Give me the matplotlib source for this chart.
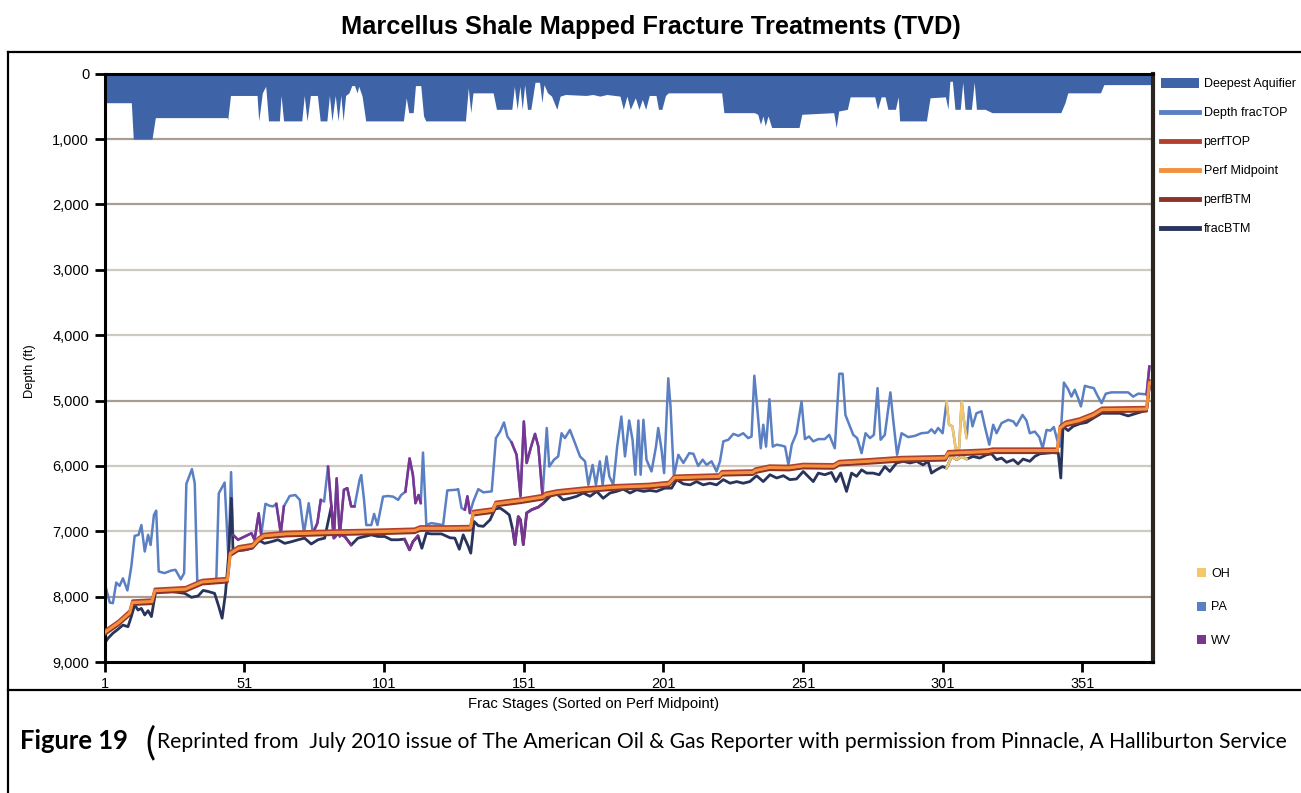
import numpy as np
import matplotlib.pyplot as plt
from matplotlib.lines import Line2D
from matplotlib.patches import Patch

plt.rcParams['font.family'] = ['Liberation Sans', 'DejaVu Sans']

# ---- datos (etapa, profundidad en ft) ----
aquifer = [(1, 444), (10.6, 444), (11.3, 1000), (18.0, 1000), (19.2, 672), (44.9, 672), (45.1, 707),
           (46.1, 333), (55.6, 333), (56.2, 722), (57.5, 293), (58.7, 192), (59.7, 722), (63.6, 722),
           (64.2, 333), (65.1, 722), (71.6, 722), (72.5, 333), (73.5, 722), (74.7, 333), (77.2, 333),
           (78.2, 722), (80.6, 722), (81.5, 333), (82.4, 722), (83.6, 333), (84.6, 722), (85.6, 333),
           (86.4, 722), (87.3, 333), (88.5, 293), (89.5, 182), (90.5, 182), (91.4, 293), (92.0, 192),
           (93.2, 343), (94.5, 722), (108.0, 722), (109.0, 369), (109.9, 596), (111.5, 596), (112.3, 182),
           (114.2, 182), (115.2, 646), (116.0, 722), (130.2, 722), (131.2, 217), (132.1, 596), (132.9, 293),
           (140.1, 293), (141.3, 545), (146.8, 545), (147.7, 192), (148.7, 545), (149.7, 192), (150.5, 545),
           (151.4, 167), (152.4, 545), (153.6, 545), (155.1, 131), (156.7, 131), (157.6, 444), (158.3, 167),
           (159.6, 293), (161.0, 343), (162.9, 545), (164.1, 343), (166.0, 318), (173.4, 333), (175.8, 318),
           (178.3, 343), (180.8, 318), (185.5, 343), (186.7, 545), (188.0, 343), (189.2, 545), (191.0, 369),
           (192.3, 545), (193.5, 394), (194.7, 545), (196.0, 333), (198.4, 333), (199.3, 545), (200.5, 545),
           (201.8, 333), (202.8, 293), (221.9, 293), (222.7, 596), (233.6, 596), (234.8, 621), (235.8, 773),
           (236.7, 646), (237.5, 798), (238.5, 646), (239.8, 823), (249.6, 823), (250.6, 621), (262.0, 596),
           (262.9, 823), (263.8, 571), (266.9, 545), (267.9, 354), (276.7, 354), (277.7, 545), (279.0, 354),
           (280.4, 354), (281.4, 545), (284.1, 545), (285.1, 354), (285.6, 722), (295.2, 722), (296.5, 369),
           (302.0, 354), (302.9, 545), (303.6, 116), (304.5, 116), (305.4, 545), (307.3, 545), (308.2, 131),
           (309.0, 545), (311.3, 545), (312.3, 131), (313.1, 545), (316.2, 545), (318.7, 596), (343.3, 596),
           (344.8, 444), (345.8, 293), (357.5, 293), (358.7, 167), (374.8, 167), (376.3, 167)]

frac_top = [(1.0, 7785), (2.9, 8090), (4.0, 8100), (5.2, 7785), (6.4, 7835), (7.6, 7720), (9.2, 7905),
            (10.6, 7540), (11.8, 7070), (13.2, 7055), (14.2, 6905), (15.4, 7310), (16.6, 7055), (17.5, 7210),
            (18.7, 6750), (19.5, 6685), (20.4, 7615), (22.5, 7640), (24.9, 7600), (26.4, 7590), (28.3, 7735),
            (29.5, 7640), (30.3, 6275), (32.3, 6050), (33.3, 6265), (34.2, 7755), (36.9, 7770), (41.0, 7770),
            (41.9, 6420), (44.0, 6255), (45.4, 7440), (46.3, 6095), (47.0, 7055), (48.8, 7130), (51.2, 7080),
            (53.6, 7030), (54.7, 7130), (56.2, 6725), (57.1, 7055), (58.6, 6580), (60.1, 6610), (61.3, 6620),
            (62.5, 6580), (64.1, 7030), (65.2, 6620), (67.3, 6460), (69.3, 6445), (70.9, 6520), (72.4, 7030),
            (74.1, 6570), (75.6, 7030), (77.2, 6875), (78.4, 6520), (79.6, 6545), (81.0, 6010), (82.2, 6620),
            (83.2, 7030), (84.1, 6190), (85.2, 7080), (86.7, 6365), (87.9, 6340), (89.3, 6620), (90.5, 6620),
            (92.3, 6215), (92.9, 6140), (93.9, 6520), (94.7, 6905), (96.5, 6905), (97.5, 6735), (98.7, 6905),
            (100.7, 6470), (102.5, 6460), (104.3, 6470), (106.1, 6520), (107.2, 6445), (108.7, 6395),
            (110.2, 5885), (111.4, 6140), (112.3, 6570), (113.4, 6445), (114.2, 6570), (115.0, 5795),
            (116.2, 6905), (118.0, 6875), (122.2, 6905), (123.7, 6375), (126.9, 6365), (127.6, 6355),
            (128.8, 6645), (130.0, 6670), (130.9, 6465), (131.8, 6720), (133.0, 6545), (134.8, 6355),
            (136.6, 6405), (139.6, 6390), (141.1, 5575), (142.6, 5475), (144.0, 5335), (145.2, 5550),
            (146.7, 5640), (148.5, 5830), (149.9, 6465), (151.1, 5320), (152.1, 5955), (153.7, 5705),
            (155.1, 5510), (156.3, 5705), (157.8, 6465), (159.3, 5420), (160.2, 6010), (161.9, 5905),
            (163.4, 5855), (164.6, 5500), (165.8, 5575), (167.6, 5450), (169.4, 5650), (171.2, 5855),
            (173.0, 5930), (174.2, 6290), (175.7, 5985), (176.9, 6290), (178.3, 5930), (179.3, 6290),
            (180.7, 5855), (181.7, 6160), (183.1, 6290), (184.5, 5705), (186.0, 5245), (187.3, 5855),
            (188.8, 5305), (190.0, 5600), (191.0, 6135), (192.1, 5305), (192.9, 6135), (193.9, 5295),
            (195.0, 5905), (196.8, 6085), (198.4, 5705), (199.2, 5420), (200.4, 5755), (201.3, 6110),
            (202.8, 4660), (203.6, 5090), (204.8, 6160), (206.4, 5830), (208.2, 5955), (210.3, 5805),
            (211.8, 5815), (213.5, 6000), (215.1, 5905), (216.5, 5985), (218.3, 5930), (220.1, 6085),
            (221.3, 5930), (222.5, 5625), (224.3, 5600), (226.1, 5510), (227.9, 5540), (229.6, 5500),
            (231.4, 5575), (232.6, 5550), (233.6, 4620), (234.7, 5140), (235.9, 5730), (236.8, 5370),
            (237.8, 5705), (239.0, 4980), (240.2, 5705), (241.6, 5675), (243.4, 5690), (244.6, 5705),
            (245.8, 5985), (247.0, 5675), (248.7, 5500), (250.5, 5015), (251.7, 5590), (253.2, 5550),
            (254.7, 5625), (256.5, 5590), (258.8, 5590), (260.4, 5525), (262.4, 5730), (264.0, 4590),
            (265.2, 4590), (266.2, 5220), (267.8, 5395), (269.0, 5525), (270.4, 5575), (272.0, 5805),
            (273.4, 5500), (275.0, 5575), (276.4, 5525), (277.7, 4810), (278.8, 5600), (280.3, 5525),
            (282.3, 4875), (283.3, 5295), (284.7, 5830), (286.3, 5500), (288.7, 5560), (291.1, 5540),
            (293.4, 5500), (295.8, 5490), (297.0, 5440), (298.2, 5500), (299.4, 5420), (301.0, 5500),
            (302.4, 5015), (303.3, 5370), (304.5, 5395), (305.7, 5745), (306.9, 5730), (307.8, 5015),
            (308.6, 5295), (309.6, 5575), (310.5, 5100), (311.7, 5395), (313.1, 5195), (314.9, 5165),
            (316.1, 5395), (317.7, 5675), (319.1, 5370), (320.3, 5500), (322.1, 5345), (324.5, 5295),
            (326.3, 5320), (327.4, 5385), (329.6, 5220), (331.0, 5305), (332.2, 5500), (334.0, 5475),
            (335.6, 5560), (336.8, 5730), (338.2, 5450), (339.6, 5460), (340.8, 5405), (342.0, 5600),
            (343.0, 5705), (344.4, 4725), (345.9, 4825), (347.1, 4940), (348.3, 4835), (349.5, 4965),
            (350.5, 5090), (351.9, 4775), (353.5, 4795), (355.1, 4810), (356.3, 4915), (357.9, 5040),
            (359.4, 4895), (361.4, 4875), (367.4, 4875), (369.2, 4940), (371.0, 4895), (374.0, 4905),
            (375.0, 4480)]

frac_btm = [(1.0, 8715), (2.3, 8635), (4.0, 8560), (5.8, 8500), (7.6, 8435), (9.4, 8460), (10.6, 8305),
            (11.8, 8125), (13.0, 8205), (14.2, 8180), (15.4, 8280), (16.6, 8215), (17.8, 8305), (19.2, 7950),
            (20.7, 7910), (24.9, 7920), (29.7, 7950), (32.1, 8010), (34.5, 7990), (36.3, 7905), (38.0, 7920),
            (40.4, 7950), (41.9, 8150), (43.1, 8330), (44.3, 7950), (45.4, 7385), (46.4, 6495), (47.0, 7310),
            (48.8, 7295), (51.2, 7285), (53.6, 7260), (55.9, 7130), (58.3, 7185), (60.7, 7160), (63.1, 7130),
            (65.5, 7185), (67.9, 7160), (70.3, 7130), (72.6, 7105), (75.0, 7195), (77.4, 7130), (79.8, 7105),
            (82.2, 6620), (83.1, 7105), (84.6, 7030), (87.0, 7080), (89.3, 7210), (91.7, 7105), (94.1, 7080),
            (96.5, 7055), (98.9, 7080), (101.3, 7080), (103.7, 7130), (106.1, 7130), (108.4, 7120),
            (110.2, 7285), (111.4, 7160), (113.2, 7070), (114.6, 7260), (116.2, 7030), (118.0, 7040),
            (121.6, 7040), (124.7, 7100), (126.4, 7105), (128.0, 7275), (129.4, 7055), (131.2, 7230),
            (132.1, 7335), (133.3, 6850), (134.8, 6915), (136.6, 6925), (139.0, 6825), (140.8, 6660),
            (142.6, 6645), (144.3, 6695), (145.9, 6750), (147.1, 6975), (147.9, 7205), (149.1, 6775),
            (149.9, 6825), (150.9, 7205), (152.1, 6720), (153.9, 6670), (156.3, 6630), (158.1, 6570),
            (160.5, 6465), (162.8, 6425), (165.2, 6520), (167.6, 6495), (170.0, 6465), (172.4, 6415),
            (174.8, 6465), (177.2, 6390), (179.5, 6495), (181.9, 6415), (184.3, 6390), (186.7, 6355),
            (189.1, 6415), (191.5, 6365), (193.9, 6390), (196.2, 6375), (198.6, 6390), (201.6, 6340),
            (204.0, 6340), (205.8, 6210), (208.2, 6275), (210.6, 6290), (212.9, 6240), (215.3, 6290),
            (217.7, 6265), (220.1, 6290), (222.5, 6210), (224.9, 6265), (227.3, 6240), (229.6, 6265),
            (232.0, 6240), (234.4, 6150), (236.8, 6240), (239.2, 6135), (241.6, 6185), (244.0, 6150),
            (246.3, 6210), (248.7, 6200), (251.1, 6085), (254.7, 6240), (256.5, 6110), (258.8, 6135),
            (261.2, 6100), (262.8, 6240), (264.5, 6110), (266.6, 6390), (268.4, 6110), (270.2, 6160),
            (272.0, 6060), (273.8, 6110), (276.1, 6110), (278.3, 6135), (280.3, 6010), (282.1, 6085),
            (284.5, 5955), (286.9, 5930), (289.3, 5955), (291.7, 5930), (294.0, 5985), (295.8, 5930),
            (297.0, 6110), (298.8, 6060), (301.0, 6010), (302.4, 6035), (304.2, 5855), (306.0, 5905),
            (307.8, 5855), (309.6, 5895), (311.9, 5855), (314.3, 5880), (316.7, 5830), (318.5, 5815),
            (320.3, 5905), (322.1, 5880), (323.9, 5945), (326.3, 5905), (328.0, 5970), (329.8, 5895),
            (332.2, 5930), (334.0, 5855), (335.8, 5815), (338.2, 5805), (340.6, 5795), (342.4, 5805),
            (343.3, 6185), (344.1, 5395), (345.9, 5460), (347.7, 5395), (350.1, 5355), (352.5, 5335),
            (354.9, 5270), (357.9, 5195), (360.9, 5195), (364.4, 5195), (367.4, 5235), (370.4, 5195),
            (374.0, 5150), (375.0, 4785)]

perf_mid = [(1, 8550), (6, 8400), (10, 8250), (11, 8090), (18, 8075), (19, 7910), (30, 7885), (36, 7775),
            (45, 7745), (46, 7340), (49, 7260), (54, 7225), (56, 7130), (58, 7070), (66, 7040), (82, 7020),
            (100, 7005), (112, 6990), (114, 6955), (124, 6955), (132, 6950), (133, 6720), (140, 6680),
            (141, 6580), (150, 6530), (158, 6475), (159, 6440), (163, 6405), (172, 6365), (184, 6325),
            (196, 6305), (203, 6275), (205, 6180), (221, 6160), (222, 6110), (233, 6100), (234, 6070),
            (239, 6025), (246, 6030), (251, 6000), (262, 6005), (264, 5955), (274, 5930), (286, 5895),
            (302, 5880), (303, 5805), (317, 5780), (319, 5765), (342, 5765), (343, 5420), (345, 5355),
            (350, 5305), (355, 5220), (358, 5140), (374, 5130), (375, 4730)]

perf_top = [(1, 8520), (6, 8370), (10, 8215), (11, 8060), (18, 8045), (19, 7880), (30, 7855), (36, 7745),
            (45, 7715), (46, 7310), (49, 7230), (54, 7195), (56, 7100), (58, 7040), (66, 7010), (82, 6990),
            (100, 6975), (112, 6960), (114, 6925), (124, 6925), (132, 6920), (133, 6690), (140, 6650),
            (141, 6550), (150, 6500), (158, 6445), (159, 6410), (163, 6375), (172, 6335), (184, 6295),
            (196, 6275), (203, 6245), (205, 6150), (221, 6130), (222, 6080), (233, 6070), (234, 6040),
            (239, 5995), (246, 6000), (251, 5970), (262, 5975), (264, 5925), (274, 5900), (286, 5865),
            (302, 5850), (303, 5775), (317, 5750), (319, 5735), (342, 5735), (343, 5390), (345, 5325),
            (350, 5275), (355, 5190), (358, 5110), (374, 5100), (375, 4690)]

perf_btm = [(1, 8585), (6, 8435), (10, 8285), (11, 8125), (18, 8110), (19, 7945), (30, 7920), (36, 7810),
            (45, 7780), (46, 7375), (49, 7295), (54, 7260), (56, 7165), (58, 7105), (66, 7075), (82, 7055),
            (100, 7040), (112, 7025), (114, 6990), (124, 6990), (132, 6985), (133, 6755), (140, 6715),
            (141, 6615), (150, 6565), (158, 6510), (159, 6475), (163, 6440), (172, 6400), (184, 6360),
            (196, 6340), (203, 6310), (205, 6215), (221, 6195), (222, 6145), (233, 6135), (234, 6105),
            (239, 6060), (246, 6065), (251, 6035), (262, 6040), (264, 5990), (274, 5965), (286, 5930),
            (302, 5915), (303, 5840), (317, 5815), (319, 5800), (342, 5800), (343, 5455), (345, 5390),
            (350, 5340), (355, 5255), (358, 5175), (374, 5165), (375, 4770)]

# tramos de etapas por estado (el resto es PA)
wv_stages = [(46.5, 57.1), (62.5, 65.2), (75.6, 78.4), (80, 90.5), (108.4, 114.2), (130, 131.8),
             (146.5, 158.1), (374, 375)]
oh_stages = [(301.5, 309.6)]

y_ticks = [0, 1000, 2000, 3000, 4000, 5000, 6000, 7000, 8000, 9000]
x_ticks = [1, 51, 101, 151, 201, 251, 301, 351]

series_labels = ['Deepest Aquifier', 'Depth fracTOP', 'perfTOP', 'Perf Midpoint', 'perfBTM', 'fracBTM']
state_labels = ['OH', 'PA', 'WV']

c_aq = '#3e64a7'
c_top = '#5b7fc3'
c_btm = '#28345b'
c_ptop = '#b3402c'
c_pmid = '#f3903d'
c_pbtm = '#8c3226'
c_wv = '#7a3592'
c_oh = '#f4c86a'


def separar(pares):
    a = np.array(pares, dtype=float)
    return a[:, 0], a[:, 1]


def ajustar_ancho(texto, rend, ancho):
    # escala el tamaño de letra hasta que el texto ocupe el ancho (px) medido en la referencia
    w = texto.get_window_extent(rend).width
    texto.set_fontsize(texto.get_fontsize() * ancho / w)


W, H = 1301, 793
fig = plt.figure(figsize=(W / 100, H / 100), dpi=100)
ax = fig.add_axes([104.5 / W, 1 - 662 / H, (1153 - 104.5) / W, (662 - 73.7) / H])

# rejilla horizontal
for v in y_ticks[1:-1]:
    col = '#a99d91' if v in (1000, 2000, 5000, 8000) else '#cfc9c3'
    ax.axhline(v, color=col, lw=1.6, zorder=0.5)

# acuifero mas profundo
aq_x, aq_d = separar(aquifer)
ax.fill_between(aq_x, 0, aq_d, color=c_aq, lw=0, zorder=1)

ft_x, ft_d = separar(frac_top)
fb_x, fb_d = separar(frac_btm)
ax.plot(ft_x, ft_d, color=c_top, lw=1.8, zorder=2)
ax.plot(fb_x, fb_d, color=c_btm, lw=2.0, zorder=2)

# colores por estado encima de las curvas de fractura
for tramos, col in [(wv_stages, c_wv), (oh_stages, c_oh)]:
    for lo, hi in tramos:
        for x, d in [(ft_x, ft_d), (fb_x, fb_d)]:
            m = (x >= lo) & (x <= hi)
            ax.plot(x[m], d[m], color=col, lw=1.8, zorder=2.5)

for pares, col, lw in [(perf_top, c_ptop, 1.8), (perf_btm, c_pbtm, 1.8), (perf_mid, c_pmid, 2.2)]:
    x, d = separar(pares)
    ax.plot(x, d, color=col, lw=lw, zorder=3)

ax.set_xlim(1, 376.3)
ax.set_ylim(9000, 0)
ax.set_xticks(x_ticks)
ax.set_yticks(y_ticks)
ax.set_yticklabels([f'{v:,}' for v in y_ticks])
ax.tick_params(direction='out', length=7, width=2, labelsize=10.5, pad=4)
for s in ['left', 'top', 'bottom']:
    ax.spines[s].set_linewidth(2.2)
ax.spines['right'].set_linewidth(3)
ax.spines['right'].set_color('#2b2521')

fig.canvas.draw()
rend = fig.canvas.get_renderer()

fig.text(30 / W, 1 - 371 / H, 'Depth (ft)', rotation=90, ha='center', va='center', fontsize=9.3)
xl = fig.text(594 / W, 1 - 704 / H, 'Frac Stages (Sorted on Perf Midpoint)', ha='center', va='center',
              fontsize=10)
ajustar_ancho(xl, rend, 252)
tt = fig.text(651 / W, 1 - 27 / H, 'Marcellus Shale Mapped Fracture Treatments (TVD)', ha='center',
              va='center', fontsize=15, fontweight='bold')
ajustar_ancho(tt, rend, 622)

# leyendas
h1 = [Patch(facecolor=c_aq, edgecolor='none'),
      Line2D([], [], color=c_top, lw=3.5), Line2D([], [], color=c_ptop, lw=3.5),
      Line2D([], [], color=c_pmid, lw=3.5), Line2D([], [], color=c_pbtm, lw=3.5),
      Line2D([], [], color=c_btm, lw=3.5)]
leg1 = ax.legend(h1, series_labels, loc='upper left', bbox_to_anchor=(1161 / W, 1 - 78 / H),
                 bbox_transform=fig.transFigure, frameon=False, fontsize=9, handlelength=3.0,
                 handleheight=0.8, labelspacing=1.35, handletextpad=0.4, borderpad=0, borderaxespad=0)
ax.add_artist(leg1)

h2 = [Patch(facecolor=c, edgecolor='none') for c in [c_oh, c_top, c_wv]]
ax.legend(h2, state_labels, loc='upper left', bbox_to_anchor=(1197 / W, 1 - 568 / H),
          bbox_transform=fig.transFigure, frameon=False, fontsize=9, handlelength=0.75,
          handleheight=0.75, labelspacing=1.72, handletextpad=0.4, borderpad=0, borderaxespad=0)

# marco de la figura
for xs, ys in [([8, W], [52, 52]), ([8, W], [690, 690]), ([8, 8], [52, H])]:
    fig.add_artist(Line2D([x / W for x in xs], [1 - y / H for y in ys], transform=fig.transFigure,
                          color='black', lw=1.6))

# pie de figura
t1 = fig.text(20 / W, 1 - 741 / H, 'Figure 19', fontsize=19, fontweight='bold',
              family=['Lato', 'DejaVu Sans'], va='center')
ajustar_ancho(t1, rend, 108)
fig.text(145 / W, 1 - 743 / H, '(', fontsize=27, family=['Lato', 'DejaVu Sans'], color='black',
         va='center')
t2 = fig.text(157 / W, 1 - 742 / H,
              'Reprinted from  July 2010 issue of The American Oil & Gas Reporter with permission from '
              'Pinnacle, A Halliburton Service', fontsize=12, family=['Lato', 'DejaVu Sans'], va='center')
ajustar_ancho(t2, rend, 1128)

fig.savefig('out.png', dpi=100)
